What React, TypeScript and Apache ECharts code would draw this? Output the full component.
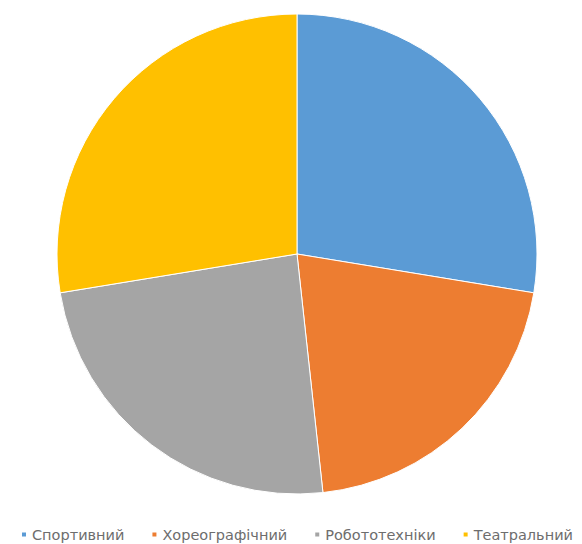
import React, { useEffect, useRef } from "react";
import * as echarts from "echarts";

const categories = ["Спортивний", "Хореографічний", "Робототехніки", "Театральний"];
const values = [8, 6, 7, 8];
const colors = ["#5B9BD5", "#ED7D31", "#A5A5A5", "#FFC000"];

export default function App() {
  const ref = useRef<HTMLDivElement>(null);
  useEffect(() => {
    if (!ref.current) return;
    const chart = echarts.init(ref.current, undefined, { renderer: "svg" });
    chart.setOption({
      animation: false,
      backgroundColor: "#ffffff",
      color: colors,
      legend: {
        left: 15,
        top: 522,
        width: 575,
        itemWidth: 6,
        itemHeight: 6,
        itemGap: 26,
        icon: "rect",
        textStyle: {
          fontFamily: "DejaVu Sans",
          fontSize: 14.5,
          color: "#6d6d6d",
        },
        data: categories,
      },
      series: [
        {
          type: "pie",
          center: [297, 254],
          radius: [0, 240],
          startAngle: 90,
          clockwise: true,
          label: { show: false },
          labelLine: { show: false },
          itemStyle: { borderColor: "#ffffff", borderWidth: 1 },
          data: categories.map((c, i) => ({ name: c, value: values[i] })),
        },
      ],
    });
    return () => chart.dispose();
  }, []);
  return <div ref={ref} style={{ width: 582, height: 544, position: "absolute", left: 0, top: 0 }} />;
}
